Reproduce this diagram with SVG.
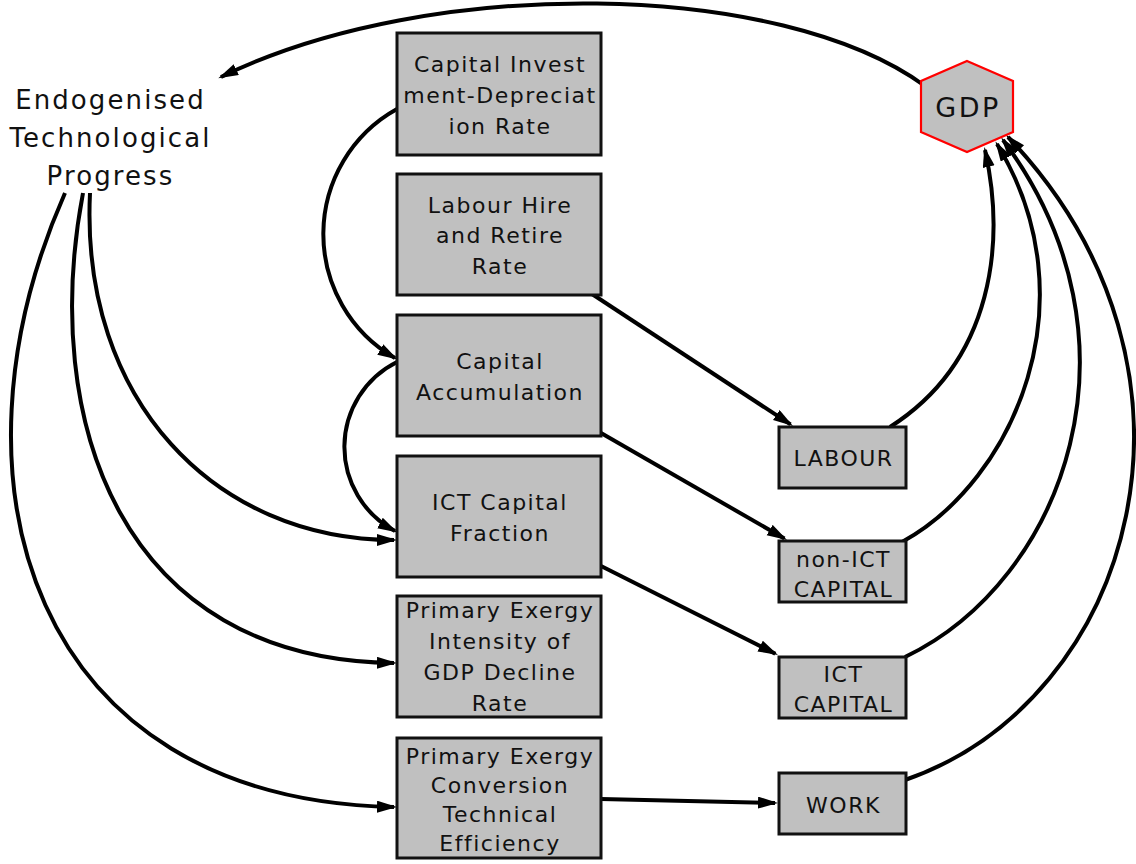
<svg xmlns="http://www.w3.org/2000/svg" width="1136" height="864" viewBox="0 0 1136 864">
  <style>
    .box { fill: #c0c0c0; stroke: #111; stroke-width: 3; }
    .hex { fill: #c0c0c0; stroke: #ff0000; stroke-width: 2.2; }
    .lbl { font-family: "DejaVu Sans", Verdana, sans-serif; font-size: 22px; letter-spacing: 1.5px; fill: #111; text-anchor: middle; }
    .big { font-family: "DejaVu Sans", Verdana, sans-serif; font-size: 26px; letter-spacing: 2.1px; fill: #111; text-anchor: middle; }
    .gdp { font-family: "DejaVu Sans", Verdana, sans-serif; font-size: 27px; letter-spacing: 2.5px; fill: #111; text-anchor: middle; }
    .edge { fill: none; stroke: #000; stroke-width: 4; marker-end: url(#arrow); }
  </style>
  <defs>
    <marker id="arrow" markerUnits="userSpaceOnUse" markerWidth="22" markerHeight="14" refX="17" refY="6" orient="auto">
      <path d="M0,0 L20,6 L0,12 z" fill="#000"/>
    </marker>
  </defs>
  <rect width="1136" height="864" fill="#fff"/>

  <g id="connectors">
    <!-- feedback from GDP to technological progress -->
    <path class="edge" d="M 925 86 C 780 -20, 430 -25, 221 77"/>
    <!-- technological progress fan-out -->
    <path class="edge" d="M 90 193 C 80 400, 215 540, 394 540"/>
    <path class="edge" d="M 83 193 C 40 420, 120 660, 394 663"/>
    <path class="edge" d="M 65 193 C -62 480, 30 800, 394 807"/>
    <!-- loops on the left of the rate column -->
    <path class="edge" d="M 397 109 A 143 143 0 0 0 395 358"/>
    <path class="edge" d="M 397 362 A 95 95 0 0 0 395 531"/>
    <!-- rates to factors -->
    <path class="edge" d="M 592 294 L 790.5 424.4"/>
    <path class="edge" d="M 601 433 L 784.4 538.5"/>
    <path class="edge" d="M 601 566 L 775.3 653.7"/>
    <path class="edge" d="M 601 799 L 775 803"/>
    <!-- factors to GDP -->
    <path class="edge" d="M 890 427 C 995 360, 1005 240, 985 150"/>
    <path class="edge" d="M 902 542 C 1015 480, 1092 300, 997 144"/>
    <path class="edge" d="M 905 657 C 1065 580, 1152 340, 1003 140"/>
    <path class="edge" d="M 905 780 C 1135 700, 1230 370, 1008 137"/>
  </g>

  <g id="tech-progress">
    <text class="big" x="110.5" y="109">Endogenised</text>
    <text class="big" x="110.5" y="147">Technological</text>
    <text class="big" x="110.5" y="185">Progress</text>
  </g>

  <g id="gdp">
    <polygon class="hex" points="967,61 1013,81 1013,132 967,152 921,132 921,81"/>
    <text class="gdp" x="968" y="117">GDP</text>
  </g>

  <g id="capital-investment-depreciation-rate">
    <rect class="box" x="397" y="33" width="204" height="122"/>
    <text class="lbl" x="500" y="72">Capital Invest</text>
    <text class="lbl" x="500" y="103">ment-Depreciat</text>
    <text class="lbl" x="500" y="134">ion Rate</text>
  </g>

  <g id="labour-hire-retire-rate">
    <rect class="box" x="397" y="174" width="204" height="121"/>
    <text class="lbl" x="500" y="213">Labour Hire</text>
    <text class="lbl" x="500" y="243">and Retire</text>
    <text class="lbl" x="500" y="274">Rate</text>
  </g>

  <g id="capital-accumulation">
    <rect class="box" x="397" y="315" width="204" height="121"/>
    <text class="lbl" x="500" y="369">Capital</text>
    <text class="lbl" x="500" y="400">Accumulation</text>
  </g>

  <g id="ict-capital-fraction">
    <rect class="box" x="397" y="456" width="204" height="121"/>
    <text class="lbl" x="500" y="510">ICT Capital</text>
    <text class="lbl" x="500" y="541">Fraction</text>
  </g>

  <g id="exergy-intensity-decline-rate">
    <rect class="box" x="397" y="596" width="204" height="121"/>
    <text class="lbl" x="500" y="618">Primary Exergy</text>
    <text class="lbl" x="500" y="649">Intensity of</text>
    <text class="lbl" x="500" y="680">GDP Decline</text>
    <text class="lbl" x="500" y="711">Rate</text>
  </g>

  <g id="exergy-conversion-efficiency">
    <rect class="box" x="397" y="738" width="204" height="120"/>
    <text class="lbl" x="500" y="764">Primary Exergy</text>
    <text class="lbl" x="500" y="793">Conversion</text>
    <text class="lbl" x="500" y="822">Technical</text>
    <text class="lbl" x="500" y="851">Efficiency</text>
  </g>

  <g id="labour">
    <rect class="box" x="779" y="427" width="127" height="61"/>
    <text class="lbl" x="843.5" y="466">LABOUR</text>
  </g>

  <g id="non-ict-capital">
    <rect class="box" x="779" y="541" width="127" height="61"/>
    <text class="lbl" x="843.5" y="567">non-ICT</text>
    <text class="lbl" x="843.5" y="597">CAPITAL</text>
  </g>

  <g id="ict-capital">
    <rect class="box" x="779" y="657" width="127" height="61"/>
    <text class="lbl" x="843.5" y="682">ICT</text>
    <text class="lbl" x="843.5" y="712">CAPITAL</text>
  </g>

  <g id="work">
    <rect class="box" x="779" y="773" width="127" height="61"/>
    <text class="lbl" x="843.5" y="813">WORK</text>
  </g>
</svg>
